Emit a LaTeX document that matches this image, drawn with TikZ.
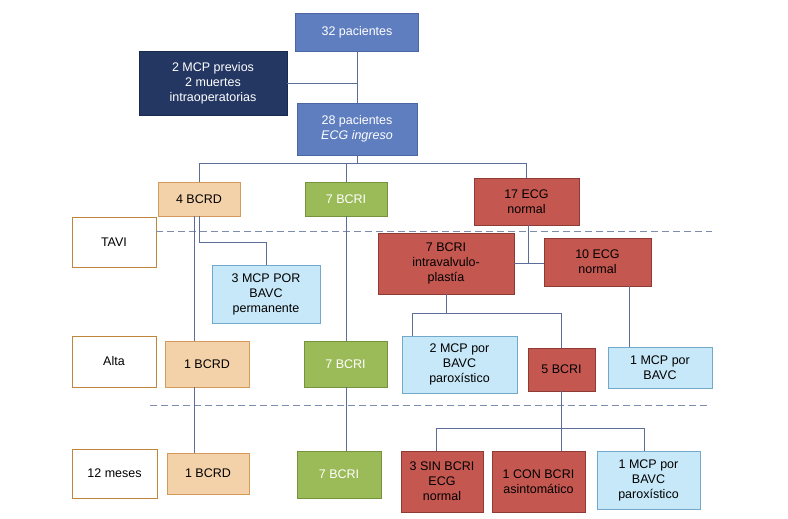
\documentclass[tikz,border=0pt]{standalone}
\usepackage{fontspec}
\setmainfont{Liberation Sans}
\usepackage{xcolor}
\definecolor{boxblue}{HTML}{5F7EBF}
\definecolor{boxblueline}{HTML}{4B66A3}
\definecolor{navy}{HTML}{243763}
\definecolor{navyline}{HTML}{1A2A4E}
\definecolor{wheat}{HTML}{F4D2A9}
\definecolor{wheatline}{HTML}{D39A5C}
\definecolor{olive}{HTML}{9BBB59}
\definecolor{oliveline}{HTML}{76923C}
\definecolor{brick}{HTML}{C4574F}
\definecolor{brickline}{HTML}{8E3B36}
\definecolor{sky}{HTML}{C6E8F8}
\definecolor{skyline}{HTML}{72A9CB}
\definecolor{stageline}{HTML}{C0853D}
\definecolor{connline}{HTML}{5C6E98}
\tikzset{box/.style={rectangle,draw,align=center,inner sep=2pt,line width=0.8pt,font=\fontsize{12.5}{15}\selectfont},
  sz/.style 2 args={minimum width=#1pt,minimum height=#2pt},
  bluebox/.style={box,fill=boxblue,draw=boxblueline,text=white},
  navybox/.style={box,fill=navy,draw=navyline,text=white},
  wheatbox/.style={box,fill=wheat,draw=wheatline},
  greenbox/.style={box,fill=olive,draw=oliveline,text=white},
  redbox/.style={box,fill=brick,draw=brickline},
  skybox/.style={box,fill=sky,draw=skyline},
  stagebox/.style={box,fill=white,draw=stageline},
  conn/.style={draw=connline,line width=0.8pt},
  sep/.style={draw=connline!80,line width=0.8pt,dash pattern=on 7pt off 4pt}}

\begin{document}
\begin{tikzpicture}[x=1pt,y=-1pt]
      \useasboundingbox[fill=white] (0,0) rectangle (788,519);

      % top
      \node[bluebox,sz={123}{38}] (p32) at (357,32) {32 pacientes};
      \node[navybox,sz={148}{64}] (prev) at (213,83.5) {2 MCP previos\\2 muertes\\intraoperatorias};
      \node[bluebox,sz={120}{52}] (p28) at (357,129) {28 pacientes\\\textit{ECG ingreso}};

      % TAVI
      \node[stagebox,sz={84}{50}] (tavi) at (114,242) {TAVI};
      \node[wheatbox,sz={82}{34}] (bcrdT) at (199,199) {4 BCRD};
      \node[greenbox,sz={82}{34}] (bcriT) at (346,199) {7 BCRI};
      \node[redbox,sz={105}{47}] (ecgT) at (526.5,201.5) {17 ECG\\normal};
      \node[skybox,sz={108}{58}] (mcpT) at (266,294) {3 MCP POR\\BAVC\\permanente};
      \node[redbox,sz={136}{61}] (intra) at (446,263.5) {7 BCRI\\intravalvulo-\\plastía};
      \node[redbox,sz={107}{48}] (ecg10) at (597.5,262) {10 ECG\\normal};

      % Alta
      \node[stagebox,sz={84}{51}] (alta) at (114,361.5) {Alta};
      \node[wheatbox,sz={84}{46}] (bcrdA) at (207,364) {1 BCRD};
      \node[greenbox,sz={83}{46}] (bcriA) at (345.5,364) {7 BCRI};
      \node[skybox,sz={115}{57}] (mcp2A) at (459.5,364.5) {2 MCP por\\BAVC\\paroxístico};
      \node[redbox,sz={67}{43}] (bcri5) at (561.5,369.5) {5 BCRI};
      \node[skybox,sz={104}{41}] (mcp1A) at (660,367.5) {1 MCP por\\BAVC};

      % 12 meses
      \node[stagebox,sz={85}{49}] (meses) at (114.5,473.5) {12 meses};
      \node[wheatbox,sz={82}{41}] (bcrdM) at (208,473.5) {1 BCRD};
      \node[greenbox,sz={84}{47}] (bcriM) at (339,474.5) {7 BCRI};
      \node[redbox,sz={82}{61}] (sin3) at (442,481.5) {3 SIN BCRI\\ECG\\normal};
      \node[redbox,sz={93}{61}] (con1) at (538.5,481.5) {1 CON BCRI\\asintomático};
      \node[skybox,sz={103}{58}] (mcp1M) at (648.5,480) {1 MCP por\\BAVC\\paroxístico};

      \coordinate (dashT) at (156,231);
      \coordinate (dashA) at (150,405);
      \draw[sep] (dashT) -- ++(556,0);
      \draw[sep] (dashA) -- ++(560,0);

      \coordinate (busT) at (0,163);
      \coordinate (busI) at (0,313);
      \coordinate (busM) at (0,428);
      \draw[conn] (p32.south) -- (p28.north);
      \draw[conn] (prev.east) -- (prev.east -| p32.south);
      \draw[conn] (p28.south) -- (p28.south |- busT);
      \draw[conn] (bcrdT.north) |- (busT -| ecgT.north) -- (ecgT.north);
      \draw[conn] (bcriT.north) -- (bcriT.north |- busT);

      \draw[conn] ([xshift=-5pt]bcrdT.south) -- ([xshift=-5pt]bcrdT.south |- bcrdA.north);
      \draw[conn] ([xshift=-5pt]bcrdT.south |- bcrdA.south) -- ([xshift=-5pt]bcrdT.south |- bcrdM.north);
      \draw[conn] (bcrdT.south) -- ++(0,26) -| (mcpT.north);
      \draw[conn] (bcriT.south) -- (bcriT.south |- bcriA.north);
      \draw[conn] (bcriT.south |- bcriA.south) -- (bcriT.south |- bcriM.north);

      \draw[conn] ([xshift=2pt]ecgT.south) -- ([xshift=2pt]ecgT.south |- intra.east);
      \draw[conn] (intra.east) -- (intra.east -| ecg10.west);
      \draw[conn] (intra.south) -- (intra.south |- busI);
      \draw[conn] ([xshift=-47pt]mcp2A.north) |- (busI -| bcri5.north) -- (bcri5.north);
      \draw[conn] ([xshift=32pt]ecg10.south) -- ([xshift=32pt]ecg10.south |- mcp1A.north);

      \draw[conn] (bcri5.south) -- (bcri5.south |- con1.north);
      \draw[conn] ([xshift=-6pt]sin3.north) |- ([xshift=-4pt]mcp1M.north |- busM) -- ([xshift=-4pt]mcp1M.north);
  \end{tikzpicture}
\end{document}
